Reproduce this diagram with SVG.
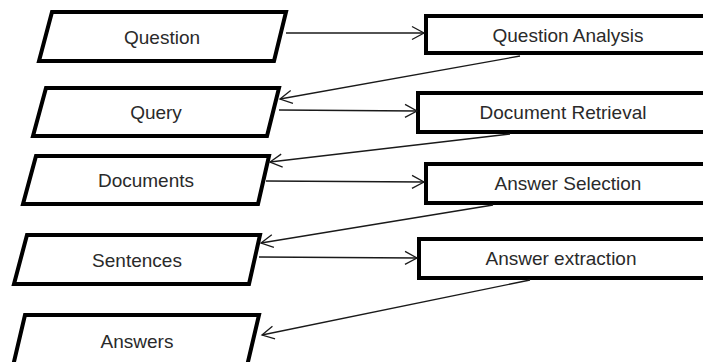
<svg xmlns="http://www.w3.org/2000/svg" width="703" height="362" viewBox="0 0 703 362">
<defs>
<style>
.box{fill:#fff;stroke:#000;stroke-width:4;stroke-linejoin:miter}
.lbl{font-family:"Liberation Sans",Arial,sans-serif;font-size:19px;fill:#2a2a2a;text-anchor:middle}
.con{stroke:#1a1a1a;stroke-width:1.3;fill:none}
</style>
<marker id="arr" markerUnits="userSpaceOnUse" markerWidth="16" markerHeight="16" viewBox="-14 -8 16 16" refX="0" refY="0" orient="auto">
<path d="M-12,-6.5 L0,0 L-12,6.5" fill="none" stroke="#1a1a1a" stroke-width="1.3"/>
</marker>
</defs>
<rect width="703" height="362" fill="#fff"/>
<g id="question"><polygon class="box" points="52,12 286,12 274,61 39,61"/><text class="lbl" x="162" y="44">Question</text></g>
<g id="query"><polygon class="box" points="46,88 279,88 267,136 33,136"/><text class="lbl" x="156" y="119">Query</text></g>
<g id="documents"><polygon class="box" points="36,156 269,156 258,204 23,204"/><text class="lbl" x="146" y="187">Documents</text></g>
<g id="sentences"><polygon class="box" points="27,235 260,235 249,284 14,284"/><text class="lbl" x="137" y="267">Sentences</text></g>
<g id="answers"><polygon class="box" points="25,315 259,315 247,366 13,366"/><text class="lbl" x="137" y="348">Answers</text></g>
<g id="question-analysis"><rect class="box" x="426" y="16" width="290" height="37"/><text class="lbl" x="568" y="42">Question Analysis</text></g>
<g id="document-retrieval"><rect class="box" x="418" y="93" width="298" height="39"/><text class="lbl" x="563" y="119">Document Retrieval</text></g>
<g id="answer-selection"><rect class="box" x="426" y="164" width="290" height="39"/><text class="lbl" x="568" y="190">Answer Selection</text></g>
<g id="answer-extraction"><rect class="box" x="419" y="239" width="297" height="39"/><text class="lbl" x="561" y="265">Answer extraction</text></g>
<g id="connectors">
<line class="con" x1="286" y1="33" x2="424" y2="33" marker-end="url(#arr)"/>
<line class="con" x1="520" y1="56" x2="280" y2="99" marker-end="url(#arr)"/>
<line class="con" x1="279" y1="110" x2="417" y2="111" marker-end="url(#arr)"/>
<line class="con" x1="510" y1="134" x2="270" y2="162" marker-end="url(#arr)"/>
<line class="con" x1="266" y1="181" x2="424" y2="182" marker-end="url(#arr)"/>
<line class="con" x1="493" y1="205" x2="261" y2="243" marker-end="url(#arr)"/>
<line class="con" x1="259" y1="257" x2="417" y2="258" marker-end="url(#arr)"/>
<line class="con" x1="530" y1="280" x2="262" y2="335" marker-end="url(#arr)"/>
</g>
</svg>
